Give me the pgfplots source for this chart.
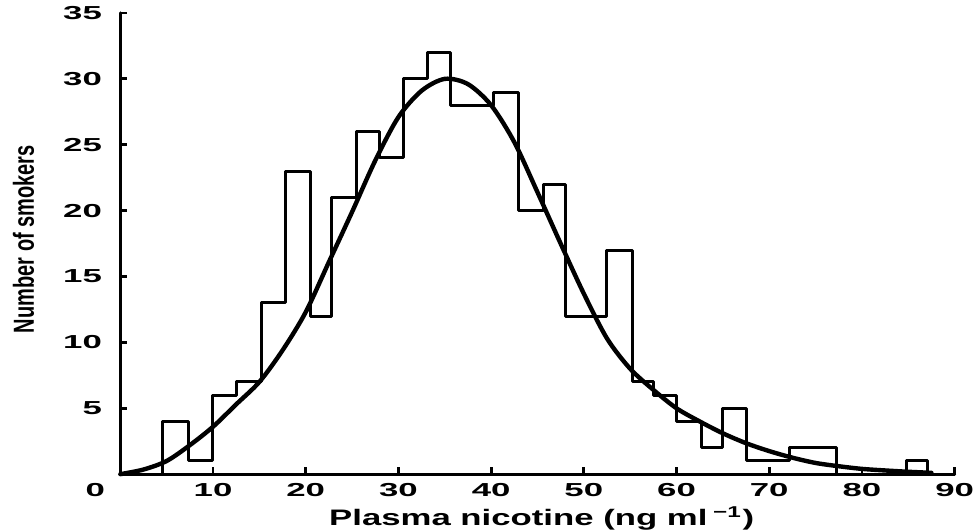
\documentclass[border=0pt]{standalone}
\usepackage{graphicx}
\usepackage{pgfplots}
\pgfplotsset{compat=1.18}
\usepackage{fontspec}
\setmainfont{Liberation Sans}
% the scanned figure is stretched sideways, so the text is widened to match
\newcommand{\wide}[1]{\scalebox{1.85}[1]{#1}}
\begin{document}
\begin{tikzpicture}
\useasboundingbox (-60.15pt,-28pt) rectangle (429.2pt,237pt);
\begin{axis}[
    at={(0,0)}, anchor=south west,
    scale only axis, width=417pt, height=230.5pt,
    xmin=0, xmax=90, ymin=0, ymax=35,
    axis lines=left,
    axis line style={-, line width=1.6pt, line cap=round},
    clip=false,
    xtick={10,20,...,90}, ytick={5,10,...,35},
    tick align=inside,
    major tick length=3.5pt,
    tick style={line width=1.4pt, black},
    tick label style={font=\fontsize{9.4}{10}\selectfont\bfseries, inner sep=0pt},
    xticklabel style={anchor=north, yshift=-4.5pt},
    yticklabel style={anchor=east, xshift=-9pt},
    xticklabel={\wide{\pgfmathprintnumber[assume math mode=true]{\tick}}},
    yticklabel={\wide{\pgfmathprintnumber[assume math mode=true]{\tick}}},
    xlabel={\scalebox{1.55}[1]{\fontsize{11.2}{13}\selectfont\bfseries Plasma nicotine (ng ml\,\textsuperscript{−1})}},
    ylabel={\scalebox{0.69}[1]{\fontsize{14.5}{16}\selectfont\bfseries Number of smokers}},
    xlabel style={at={(rel axis cs:0.505,-0.1106)}, anchor=base},
    ylabel style={at={(rel axis cs:-0.1161,0.5098)}, anchor=center},
]
% histogram outline (bin edges as drawn)
\addplot[const plot, line width=1.5pt, line join=round] coordinates {
  (4.6,0) (4.6,4) (7.35,1) (9.9,6) (12.55,7) (15.25,13) (17.8,23)
  (20.5,12) (22.8,21) (25.5,26) (28,24) (30.5,30) (33.1,32) (35.6,28)
  (40.25,29) (42.9,20) (45.6,22) (48,12) (52.5,17) (55.3,7) (57.5,6)
  (60,4) (62.7,2) (65,5) (67.6,1) (72.2,2) (77.3,0)
};
\addplot[const plot, line width=1.5pt, line join=round] coordinates {
  (84.8,0) (84.8,1) (87.05,0)
};
% fitted curve
\addplot[smooth, line width=2.2pt, line cap=round] coordinates {
  (0,0) (2.5,0.35) (5,1.0) (7.5,2.2) (10,3.6) (12.5,5.3) (15,7.0)
  (17.5,9.4) (20,12.3) (22.5,16.1) (25,19.9) (27.5,23.8) (30,27.1)
  (32.5,29.1) (35,30.0) (37.5,29.6) (40,28.0) (42.5,25.2) (45,21.4)
  (47.5,17.5) (50,13.7) (52.5,10.3) (55,8.0) (57.5,6.4) (60,5.0)
  (62.5,4.0) (65,3.1) (67.5,2.35) (70,1.75) (72.5,1.25) (75,0.85)
  (77.5,0.6) (80,0.4) (82.5,0.28) (85,0.18) (87.5,0.1)
};
\node[anchor=north east, inner sep=0pt, font=\fontsize{9.4}{10}\selectfont\bfseries,
      xshift=-7.5pt, yshift=-4.5pt] at (rel axis cs:0,0) {\wide{0}};
\end{axis}
\end{tikzpicture}
\end{document}
